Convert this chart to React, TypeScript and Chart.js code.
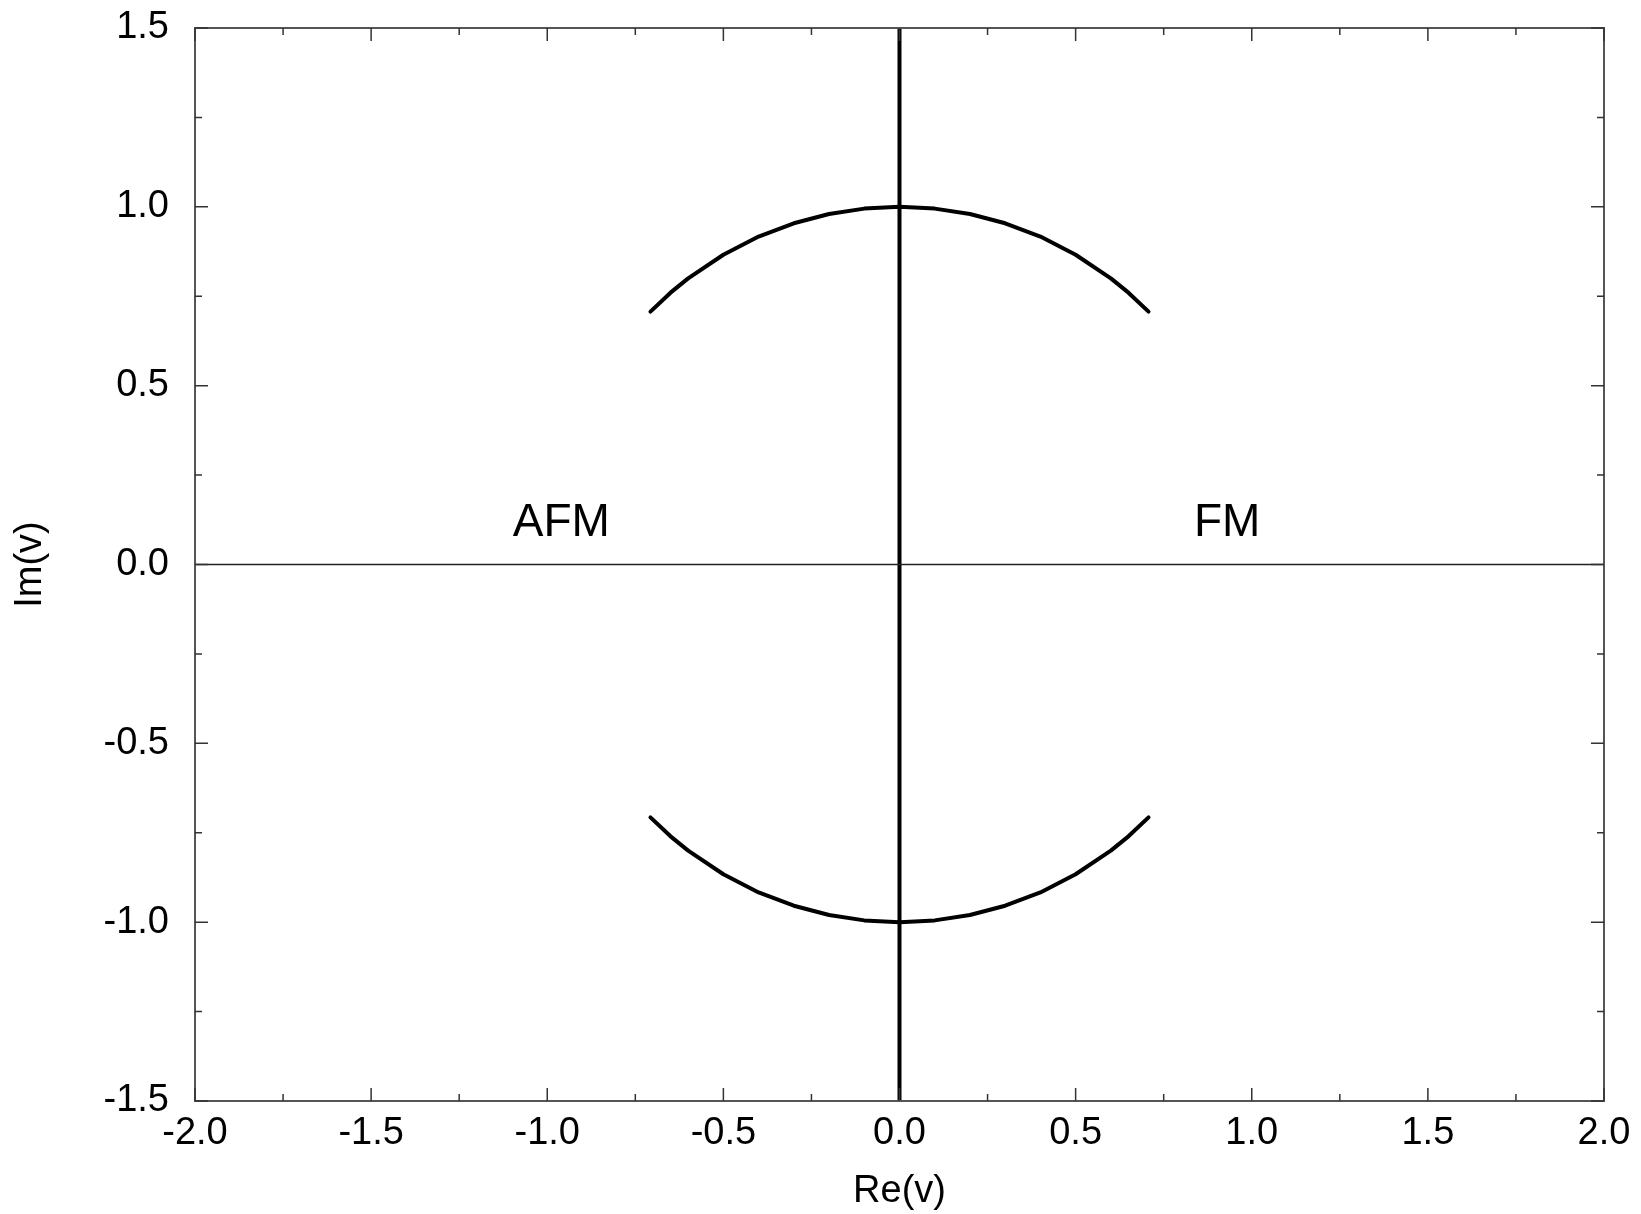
import React, { useEffect, useRef } from "react";
import { Chart, registerables } from "chart.js";

Chart.register(...registerables);

// Upper arc points (Re, Im)
const upperRe = [-0.707, -0.65, -0.6, -0.5, -0.4, -0.3, -0.2, -0.1, 0.0, 0.1, 0.2, 0.3, 0.4, 0.5, 0.6, 0.65, 0.707];
const upperIm = [0.707, 0.76, 0.8, 0.866, 0.917, 0.954, 0.98, 0.995, 1.0, 0.995, 0.98, 0.954, 0.917, 0.866, 0.8, 0.76, 0.707];
// Lower arc points (Re, Im)
const lowerRe = [-0.707, -0.65, -0.6, -0.5, -0.4, -0.3, -0.2, -0.1, 0.0, 0.1, 0.2, 0.3, 0.4, 0.5, 0.6, 0.65, 0.707];
const lowerIm = [-0.707, -0.76, -0.8, -0.866, -0.917, -0.954, -0.98, -0.995, -1.0, -0.995, -0.98, -0.954, -0.917, -0.866, -0.8, -0.76, -0.707];
// Vertical line Re = 0
const vertRe = [0, 0];
const vertIm = [-1.5, 1.5];
// Horizontal line Im = 0
const horizRe = [-2, 2];
const horizIm = [0, 0];

// Axis ranges
const xRange = [-2, 2];
const yRange = [-1.5, 1.5];
const tickStep = 0.5;

// Region labels
const regionNames = ["AFM", "FM"];
const regionRe = [-0.96, 0.93];
const regionIm = [0.115, 0.115];

const zip = (xs: number[], ys: number[]) => xs.map((x, i) => ({ x, y: ys[i] }));

const FONT = "'Liberation Sans', Arial, Helvetica, sans-serif";

const framePlugin = {
  id: "framePlugin",
  afterDraw(chart: any) {
    const ctx = chart.ctx;
    const { left, right, top, bottom } = chart.chartArea;
    const xs = chart.scales.x;
    const ys = chart.scales.y;
    ctx.save();
    // region labels
    ctx.fillStyle = "#000";
    ctx.font = `46px ${FONT}`;
    ctx.textAlign = "center";
    ctx.textBaseline = "middle";
    regionNames.forEach((t, i) => {
      ctx.fillText(t, xs.getPixelForValue(regionRe[i]), ys.getPixelForValue(regionIm[i]));
    });
    // frame
    ctx.strokeStyle = "#555";
    ctx.lineWidth = 2;
    ctx.strokeRect(left, top, right - left, bottom - top);
    // ticks
    ctx.strokeStyle = "#333";
    ctx.lineWidth = 1.5;
    const major = 13;
    const minor = 7;
    for (let v = xRange[0]; v <= xRange[1] + 1e-9; v += tickStep / 2) {
      const isMajor = Math.abs(v / tickStep - Math.round(v / tickStep)) < 1e-6;
      const len = isMajor ? major : minor;
      const px = xs.getPixelForValue(v);
      ctx.beginPath();
      ctx.moveTo(px, bottom);
      ctx.lineTo(px, bottom - len);
      ctx.moveTo(px, top);
      ctx.lineTo(px, top + len);
      ctx.stroke();
    }
    for (let v = yRange[0]; v <= yRange[1] + 1e-9; v += tickStep / 2) {
      const isMajor = Math.abs(v / tickStep - Math.round(v / tickStep)) < 1e-6;
      const len = isMajor ? major : minor;
      const py = ys.getPixelForValue(v);
      ctx.beginPath();
      ctx.moveTo(left, py);
      ctx.lineTo(left + len, py);
      ctx.moveTo(right, py);
      ctx.lineTo(right - len, py);
      ctx.stroke();
    }
    ctx.restore();
  },
};

export default function App() {
  const canvasRef = useRef<HTMLCanvasElement | null>(null);

  useEffect(() => {
    if (!canvasRef.current) return;
    const lineDs = (data: { x: number; y: number }[], width: number, color: string) => ({
      data,
      showLine: true,
      borderColor: color,
      borderWidth: width,
      pointRadius: 0,
      fill: false,
      tension: 0,
      borderCapStyle: "round",
      borderJoinStyle: "round",
    });
    const chart = new Chart(canvasRef.current, {
      type: "scatter",
      data: {
        datasets: [
          lineDs(zip(horizRe, horizIm), 1.5, "#222"),
          lineDs(zip(vertRe, vertIm), 4, "#000"),
          lineDs(zip(upperRe, upperIm), 4, "#000"),
          lineDs(zip(lowerRe, lowerIm), 4, "#000"),
        ],
      },
      options: {
        responsive: false,
        animation: false,
        devicePixelRatio: 1,
        layout: { padding: { top: 28, right: 37, left: 0, bottom: 0 } },
        plugins: { legend: { display: false }, tooltip: { enabled: false } },
        scales: {
          x: {
            type: "linear",
            min: xRange[0],
            max: xRange[1],
            afterFit: (s: any) => {
              s.height = 113;
              s.paddingLeft = 0;
              s.paddingRight = 0;
            },
            grid: { display: false, drawTicks: false },
            border: { display: false },
            ticks: {
              stepSize: tickStep,
              padding: 10,
              color: "#000",
              font: { family: FONT, size: 38 },
              callback: (v: any) => Number(v).toFixed(1),
            },
            title: {
              display: true,
              text: "Re(v)",
              color: "#000",
              font: { family: FONT, size: 38 },
              padding: { top: 4, bottom: 0 },
            },
          },
          y: {
            type: "linear",
            min: yRange[0],
            max: yRange[1],
            afterFit: (s: any) => {
              s.width = 195;
              s.paddingTop = 0;
              s.paddingBottom = 0;
            },
            grid: { display: false, drawTicks: false },
            border: { display: false },
            ticks: {
              stepSize: tickStep,
              padding: 26,
              color: "#000",
              font: { family: FONT, size: 38 },
              callback: (v: any) => Number(v).toFixed(1),
            },
            title: {
              display: true,
              text: "Im(v)",
              color: "#000",
              font: { family: FONT, size: 38 },
              padding: { top: 8, bottom: 0 },
            },
          },
        },
      },
      plugins: [framePlugin],
    } as any);
    return () => chart.destroy();
  }, []);

  return (
    <div style={{ position: "absolute", left: 0, top: 0, width: 1641, height: 1214, background: "#fff" }}>
      <canvas ref={canvasRef} width={1641} height={1214} style={{ display: "block" }} />
    </div>
  );
}
